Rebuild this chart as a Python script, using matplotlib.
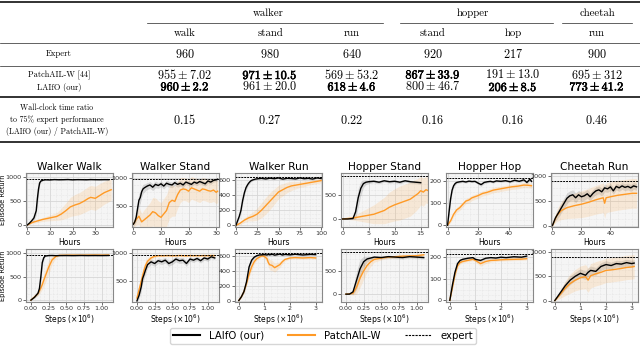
import matplotlib
matplotlib.use("Agg")
import matplotlib.pyplot as plt
import matplotlib.patheffects as pe
from matplotlib.lines import Line2D
from matplotlib.ticker import AutoMinorLocator

# ---------------- table data ----------------
envs = ["walker", "hopper", "cheetah"]
tasks = ["walk", "stand", "run", "stand", "hop", "run"]
expert_scores = [960, 980, 640, 920, 217, 900]
patchail_scores = ["955 \\pm 7.02", "971 \\pm 10.5", "569 \\pm 53.2", "867 \\pm 33.9", "191 \\pm 13.0", "695 \\pm 312"]
laifo_scores = ["960 \\pm 2.2", "961 \\pm 20.0", "618 \\pm 4.6", "800 \\pm 46.7", "206 \\pm 8.5", "773 \\pm 41.2"]
patchail_bold = [False, True, False, True, False, False]
laifo_bold = [True, False, True, False, True, True]
time_ratio = [0.15, 0.27, 0.22, 0.16, 0.16, 0.46]

# ---------------- curve data (row 1: hours) ----------------
titles = ["Walker Walk", "Walker Stand", "Walker Run", "Hopper Stand", "Hopper Hop", "Cheetah Run"]

ww_h_x_ours = [0, 1, 2, 3, 4, 4.5, 5, 5.5, 6, 7, 8, 10, 12, 14, 16, 18, 20, 22, 24, 26, 28, 30, 32, 34, 36]
ww_h_ours = [0, 40, 90, 150, 300, 550, 750, 880, 920, 940, 948, 945, 952, 948, 950, 953, 947, 951, 950, 948, 952, 950, 949, 951, 950]
ww_h_ours_sd = [0, 20, 40, 60, 90, 120, 100, 50, 20, 10, 8, 8, 8, 8, 8, 8, 8, 8, 8, 8, 8, 8, 8, 8, 8]
ww_h_x_patch = [0, 2, 4, 7, 10, 13, 15, 17, 19, 21, 23, 25, 27, 28, 30, 32, 34, 36, 37]
ww_h_patch = [0, 50, 80, 120, 150, 180, 230, 300, 380, 420, 450, 500, 560, 580, 560, 620, 680, 720, 740]
ww_h_patch_sd = [0, 20, 30, 40, 60, 80, 120, 160, 200, 220, 230, 240, 250, 250, 250, 250, 240, 230, 220]

ws_h_x_ours = [0, 0.5, 1, 1.5, 2, 2.5, 3, 3.5, 4, 5, 6, 7, 8, 9, 10, 11, 12, 13, 14, 15, 16, 17, 18, 19, 20, 21, 22, 23, 24, 25, 26, 27, 28, 29, 30, 30.5]
ws_h_ours = [180, 220, 300, 450, 600, 650, 750, 800, 820, 850, 870, 830, 880, 860, 890, 850, 900, 880, 870, 910, 880, 900, 870, 920, 900, 880, 920, 900, 930, 910, 890, 940, 920, 950, 960, 970]
ws_h_ours_sd = [40, 50, 80, 100, 120, 100, 90, 80, 70, 60, 60, 60, 60, 50, 50, 50, 50, 50, 50, 50, 50, 50, 50, 40, 40, 40, 40, 40, 40, 40, 40, 40, 40, 30, 30, 30]
ws_h_x_patch = [0, 1, 2, 3, 4, 5, 6, 7, 8, 9, 10, 11, 12, 13, 14, 15, 16, 17, 18, 19, 20, 21, 22, 23, 24, 25, 26, 27, 28, 29, 30, 30.5]
ws_h_patch = [180, 260, 320, 220, 260, 300, 340, 400, 380, 330, 300, 360, 420, 560, 600, 580, 700, 780, 800, 790, 760, 820, 800, 780, 760, 800, 790, 770, 760, 780, 740, 760]
ws_h_patch_sd = [60, 100, 150, 150, 180, 200, 220, 250, 260, 260, 260, 270, 280, 280, 280, 260, 240, 220, 200, 200, 200, 200, 200, 200, 200, 200, 200, 200, 200, 200, 200, 200]

wr_h_x_ours = [0, 2, 4, 6, 8, 10, 12, 14, 16, 18, 20, 23, 26, 30, 35, 40, 45, 50, 55, 60, 65, 70, 75, 80, 85, 90, 95, 100]
wr_h_ours = [0, 60, 120, 200, 330, 430, 500, 540, 570, 590, 600, 610, 615, 620, 612, 622, 615, 625, 610, 620, 618, 612, 625, 615, 620, 610, 625, 618]
wr_h_ours_sd = [0, 20, 30, 40, 40, 40, 30, 25, 20, 15, 10, 10, 10, 10, 10, 10, 10, 10, 10, 10, 10, 10, 10, 10, 10, 10, 10, 10]
wr_h_x_patch = [0, 5, 10, 15, 20, 25, 30, 35, 40, 45, 50, 55, 60, 65, 70, 75, 80, 85, 90, 95, 100]
wr_h_patch = [0, 30, 70, 100, 120, 150, 200, 260, 320, 380, 440, 470, 500, 520, 530, 540, 550, 560, 570, 580, 590]
wr_h_patch_sd = [0, 20, 30, 40, 60, 80, 100, 110, 110, 100, 90, 80, 70, 60, 50, 40, 40, 30, 30, 30, 30]

hs_h_x_ours = [0, 1, 2, 2.5, 3, 3.5, 4, 4.5, 5, 6, 7, 8, 9, 10, 11, 12, 13, 14, 15]
hs_h_ours = [0, 0, 10, 150, 450, 650, 750, 780, 790, 800, 780, 810, 790, 800, 780, 810, 790, 780, 770]
hs_h_ours_sd = [0, 0, 20, 150, 200, 150, 80, 50, 40, 30, 30, 30, 30, 30, 30, 30, 30, 30, 30]
hs_h_x_patch = [0, 2, 4, 6, 8, 9, 10, 11, 12, 13, 14, 14.5, 15, 15.5, 16, 16.5]
hs_h_patch = [0, 20, 60, 100, 180, 250, 300, 340, 380, 420, 500, 540, 600, 570, 620, 600]
hs_h_patch_sd = [0, 40, 120, 200, 280, 320, 340, 360, 360, 360, 340, 320, 300, 300, 280, 280]

hh_h_x_ours = [0, 1, 2, 3, 4, 5, 6, 8, 10, 12, 14, 16, 18, 20, 22, 24, 26, 28, 30, 32, 35, 38, 41, 44, 47, 50, 52, 54, 55]
hh_h_ours = [0, 60, 120, 160, 180, 190, 195, 198, 200, 197, 201, 199, 200, 192, 185, 195, 198, 200, 197, 202, 200, 203, 198, 205, 200, 207, 195, 210, 200]
hh_h_ours_sd = [0, 15, 15, 12, 10, 8, 6, 5, 5, 5, 5, 5, 5, 6, 8, 6, 5, 5, 5, 5, 5, 5, 5, 6, 6, 6, 8, 8, 8]
hh_h_x_patch = [0, 2, 4, 6, 8, 10, 12, 14, 16, 18, 20, 23, 26, 30, 34, 38, 42, 46, 50, 53, 55]
hh_h_patch = [0, 20, 50, 70, 80, 95, 110, 115, 125, 130, 135, 145, 150, 160, 165, 170, 175, 178, 183, 182, 180]
hh_h_patch_sd = [0, 8, 10, 12, 12, 12, 12, 12, 12, 12, 12, 12, 12, 12, 12, 12, 12, 12, 12, 12, 12]

cr_h_x_ours = [0, 2, 4, 6, 8, 10, 12, 14, 16, 18, 20, 22, 24, 26, 28, 30, 32, 34, 36, 38, 40, 42, 44, 46, 48, 50, 52, 54, 56, 58]
cr_h_ours = [0, 150, 250, 350, 450, 550, 600, 620, 560, 620, 580, 600, 640, 580, 650, 700, 720, 680, 760, 740, 780, 700, 790, 760, 800, 770, 790, 760, 800, 780]
cr_h_ours_sd = [0, 60, 90, 100, 110, 110, 100, 100, 100, 90, 90, 90, 90, 80, 80, 80, 80, 80, 80, 70, 70, 70, 70, 70, 70, 70, 70, 70, 70, 70]
cr_h_x_patch = [0, 3, 6, 10, 15, 20, 25, 30, 35, 36, 37, 40, 45, 50, 55, 58]
cr_h_patch = [0, 200, 300, 360, 400, 430, 470, 520, 560, 450, 560, 580, 610, 630, 650, 650]
cr_h_patch_sd = [0, 120, 180, 220, 250, 270, 280, 290, 300, 300, 300, 300, 300, 300, 300, 300]

# ---------------- curve data (row 2: env steps x 1e6) ----------------
ww_s_x = [0, 0.05, 0.1, 0.12, 0.14, 0.16, 0.18, 0.2, 0.25, 0.3, 0.35, 0.4, 0.5, 0.6, 0.7, 0.8, 0.9, 1.0, 1.1]
ww_s_ours = [0, 60, 150, 250, 500, 800, 900, 940, 950, 952, 948, 950, 951, 949, 952, 950, 951, 950, 952]
ww_s_ours_sd = [0, 20, 40, 80, 120, 80, 40, 15, 8, 8, 8, 8, 8, 8, 8, 8, 8, 8, 8]
ww_s_patch = [0, 70, 140, 200, 260, 330, 420, 500, 700, 860, 930, 955, 958, 960, 958, 960, 962, 960, 962]
ww_s_patch_sd = [0, 20, 40, 60, 80, 100, 120, 140, 150, 90, 40, 10, 8, 8, 8, 8, 8, 8, 8]

ws_s_x = [0, 0.03, 0.06, 0.08, 0.1, 0.12, 0.15, 0.2, 0.25, 0.3, 0.35, 0.4, 0.45, 0.5, 0.55, 0.6, 0.65, 0.7, 0.75, 0.8, 0.85, 0.9, 0.95, 1.0, 1.05, 1.1]
ws_s_ours = [150, 250, 400, 550, 620, 700, 800, 850, 820, 870, 850, 880, 820, 850, 900, 870, 880, 820, 900, 880, 910, 870, 920, 900, 940, 920]
ws_s_ours_sd = [30, 60, 80, 80, 80, 70, 60, 50, 50, 50, 50, 50, 50, 50, 50, 50, 50, 50, 40, 40, 40, 40, 40, 40, 30, 30]
ws_s_patch = [200, 350, 500, 600, 700, 780, 860, 920, 950, 960, 958, 960, 962, 958, 960, 962, 960, 958, 962, 960, 961, 960, 962, 960, 963, 962]
ws_s_patch_sd = [40, 80, 100, 100, 100, 90, 70, 40, 20, 15, 10, 10, 10, 10, 10, 10, 10, 10, 10, 10, 10, 10, 10, 10, 10, 10]

wr_s_x = [0, 0.1, 0.2, 0.3, 0.4, 0.5, 0.6, 0.7, 0.8, 0.9, 1.0, 1.1, 1.15, 1.2, 1.3, 1.4, 1.5, 1.6, 1.7, 1.8, 2.0, 2.2, 2.5, 2.8, 3.0]
wr_s_ours = [0, 50, 120, 250, 450, 540, 580, 600, 610, 612, 615, 610, 618, 612, 620, 608, 615, 622, 610, 618, 612, 620, 610, 618, 615]
wr_s_ours_sd = [0, 10, 20, 40, 40, 30, 20, 15, 12, 12, 12, 12, 12, 12, 12, 12, 12, 12, 12, 12, 12, 12, 12, 12, 12]
wr_s_patch = [0, 50, 120, 230, 350, 450, 520, 560, 580, 600, 590, 560, 510, 480, 470, 440, 460, 480, 520, 550, 570, 575, 570, 575, 570]
wr_s_patch_sd = [0, 10, 20, 30, 40, 40, 30, 20, 20, 20, 30, 50, 60, 70, 70, 60, 50, 40, 30, 20, 15, 15, 15, 15, 15]

hs_s_x = [0, 0.05, 0.1, 0.15, 0.2, 0.25, 0.3, 0.35, 0.4, 0.5, 0.6, 0.7, 0.8, 0.9, 1.0, 1.1]
hs_s_ours = [0, 0, 50, 300, 550, 700, 760, 780, 800, 790, 810, 800, 790, 810, 800, 790]
hs_s_ours_sd = [0, 0, 60, 200, 200, 120, 60, 40, 30, 30, 30, 30, 30, 30, 30, 30]
hs_s_patch = [0, 5, 20, 150, 350, 500, 620, 700, 750, 780, 800, 810, 820, 825, 830, 850]
hs_s_patch_sd = [0, 10, 40, 150, 200, 180, 140, 100, 60, 40, 30, 30, 30, 30, 30, 30]

hh_s_x = [0, 0.1, 0.2, 0.3, 0.4, 0.5, 0.7, 0.9, 1.0, 1.2, 1.4, 1.6, 1.8, 2.0, 2.2, 2.5, 2.8, 3.0]
hh_s_ours = [0, 70, 130, 170, 185, 190, 195, 198, 190, 185, 195, 198, 196, 200, 198, 202, 200, 205]
hh_s_ours_sd = [0, 15, 15, 10, 8, 6, 5, 5, 6, 6, 5, 5, 5, 5, 5, 5, 5, 6]
hh_s_patch = [0, 60, 120, 160, 175, 180, 185, 190, 185, 170, 180, 185, 186, 188, 189, 190, 191, 193]
hh_s_patch_sd = [0, 12, 15, 12, 8, 6, 6, 6, 8, 12, 10, 8, 6, 6, 6, 6, 6, 6]

cr_s_x = [0, 0.2, 0.4, 0.6, 0.8, 1.0, 1.2, 1.3, 1.4, 1.6, 1.8, 2.0, 2.2, 2.4, 2.6, 2.8, 3.0, 3.1]
cr_s_ours = [0, 150, 300, 420, 500, 560, 520, 580, 620, 600, 700, 740, 720, 760, 750, 780, 760, 770]
cr_s_ours_sd = [0, 50, 80, 90, 90, 90, 90, 90, 90, 80, 80, 80, 70, 70, 70, 70, 70, 70]
cr_s_patch = [0, 120, 250, 350, 420, 470, 490, 420, 510, 550, 580, 620, 630, 645, 660, 680, 690, 700]
cr_s_patch_sd = [0, 80, 150, 200, 220, 240, 250, 250, 250, 250, 250, 250, 250, 250, 250, 250, 250, 250]

hour_data = [
    (ww_h_x_ours, ww_h_ours, ww_h_ours_sd, ww_h_x_patch, ww_h_patch, ww_h_patch_sd),
    (ws_h_x_ours, ws_h_ours, ws_h_ours_sd, ws_h_x_patch, ws_h_patch, ws_h_patch_sd),
    (wr_h_x_ours, wr_h_ours, wr_h_ours_sd, wr_h_x_patch, wr_h_patch, wr_h_patch_sd),
    (hs_h_x_ours, hs_h_ours, hs_h_ours_sd, hs_h_x_patch, hs_h_patch, hs_h_patch_sd),
    (hh_h_x_ours, hh_h_ours, hh_h_ours_sd, hh_h_x_patch, hh_h_patch, hh_h_patch_sd),
    (cr_h_x_ours, cr_h_ours, cr_h_ours_sd, cr_h_x_patch, cr_h_patch, cr_h_patch_sd),
]
step_data = [
    (ww_s_x, ww_s_ours, ww_s_ours_sd, ww_s_x, ww_s_patch, ww_s_patch_sd),
    (ws_s_x, ws_s_ours, ws_s_ours_sd, ws_s_x, ws_s_patch, ws_s_patch_sd),
    (wr_s_x, wr_s_ours, wr_s_ours_sd, wr_s_x, wr_s_patch, wr_s_patch_sd),
    (hs_s_x, hs_s_ours, hs_s_ours_sd, hs_s_x, hs_s_patch, hs_s_patch_sd),
    (hh_s_x, hh_s_ours, hh_s_ours_sd, hh_s_x, hh_s_patch, hh_s_patch_sd),
    (cr_s_x, cr_s_ours, cr_s_ours_sd, cr_s_x, cr_s_patch, cr_s_patch_sd),
]

hour_xlim = [(-0.5, 37.8), (-0.5, 31), (-1, 101), (-0.3, 16.4), (-1, 56), (-1, 59)]
hour_xticks = [[0, 10, 20, 30], [0, 10, 20, 30], [0, 25, 50, 75, 100], [0, 5, 10, 15], [0, 20, 40], [0, 20, 40]]
step_xlim = [(-0.07, 1.16), (-0.07, 1.16), (-0.15, 3.25), (-0.07, 1.16), (-0.15, 3.25), (-0.15, 3.25)]
step_xticks = [[0, 0.25, 0.5, 0.75, 1.0], [0, 0.25, 0.5, 0.75, 1.0], [0, 1, 2, 3], [0, 0.25, 0.5, 0.75, 1.0], [0, 1, 2, 3], [0, 1, 2, 3]]
ylims = [(-40, 1090), (130, 1080), (-20, 690), (-170, 975), (-8, 238), (-30, 1060)]
yticks = [[0, 500, 1000], [500, 1000], [0, 200, 400, 600], [0, 500], [0, 100, 200], [0, 500, 1000]]

BLACK = "black"
ORANGE = "#ff9a26"

W, H = 640, 347
fig = plt.figure(figsize=(6.4, 3.47), dpi=100)


def fx(x):
    return x / W


def fy(y):
    return 1 - y / H


def hline(y, x0=0, x1=640, lw=0.5):
    fig.add_artist(Line2D([fx(x0), fx(x1)], [fy(y), fy(y)], transform=fig.transFigure, color="#222222", lw=lw))


def ttext(x, y, s, size=8, bold=False):
    t = fig.text(fx(x), fy(y), s, ha="center", va="center", fontsize=size,
                 fontfamily="cmr10", math_fontfamily="cm")
    if bold:
        # mathtext cm bold is faint at this size, thicken it a bit
        t.set_path_effects([pe.withStroke(linewidth=0.4, foreground="black")])


# ---------------- table ----------------
col_x = [185, 270, 352, 433, 513, 597]
label_x = 57
label_size = 5.7
num_size = 8.8
head_size = 7.8
hline(2, lw=1.3)
ttext(268, 13, envs[0], head_size)
ttext(473, 13, envs[1], head_size)
ttext(597, 13, envs[2], head_size)
hline(23, 147, 383)
hline(23, 400, 553)
hline(23, 562, 632)
for x, t in zip(col_x, tasks):
    ttext(x, 33, t, head_size)
hline(43)
ttext(label_x + 2, 54, "Expert", label_size + 0.6)
for x, v in zip(col_x, expert_scores):
    ttext(x, 54, "$%d$" % v, num_size)
hline(66)
ttext(label_x + 2, 75, "PatchAIL-W [44]", label_size + 0.3)
ttext(label_x + 2, 87, "LAIfO (our)", label_size + 0.3)
for x, s, b in zip(col_x, patchail_scores, patchail_bold):
    ttext(x, 75, ("$\\mathbf{%s}$" if b else "$%s$") % s, num_size, b)
for x, s, b in zip(col_x, laifo_scores, laifo_bold):
    ttext(x, 87, ("$\\mathbf{%s}$" if b else "$%s$") % s, num_size, b)
hline(97, lw=1.3)
ttext(label_x, 108, "Wall-clock time ratio", label_size)
ttext(label_x, 120, "to 75% expert performance", label_size)
ttext(label_x, 132, "(LAIfO (our) / PatchAIL-W)", label_size)
for x, v in zip(col_x, time_ratio):
    ttext(x, 120, "$%.2f$" % v, num_size)
hline(142, lw=1.3)

# ---------------- curves ----------------
col_left = [26, 132, 235, 341, 446, 551]
ax_w = 87
rows = [(173, 227, hour_data, hour_xlim, hour_xticks, "Hours"),
        (249, 302, step_data, step_xlim, step_xticks, "Steps ($\\times 10^6$)")]

for r, (top, bot, data, xlims, xticks, xlabel) in enumerate(rows):
    for c in range(6):
        ax = fig.add_axes([fx(col_left[c]), fy(bot), fx(ax_w), (bot - top) / H])
        xo, yo, so, xp, yp, sp = data[c]
        lo = [a - b for a, b in zip(yo, so)]
        hi = [a + b for a, b in zip(yo, so)]
        ax.fill_between(xo, lo, hi, color="black", alpha=0.12, lw=0)
        lo = [a - b for a, b in zip(yp, sp)]
        hi = [a + b for a, b in zip(yp, sp)]
        ax.fill_between(xp, lo, hi, color=ORANGE, alpha=0.15, lw=0)
        ax.plot(xp, yp, color=ORANGE, lw=1.0)
        ax.plot(xo, yo, color=BLACK, lw=1.0)
        ax.axhline(expert_scores[c], color="black", lw=0.7, ls=(0, (2, 1)))
        ax.set_xlim(*xlims[c])
        ax.set_ylim(*ylims[c])
        ax.set_xticks(xticks[c])
        ax.set_yticks(yticks[c])
        if r == 1 and c in (0, 1, 3):
            ax.set_xticklabels(["%.2f" % t for t in xticks[c]])
        ax.set_facecolor("#f5f5f5")
        ax.xaxis.set_minor_locator(AutoMinorLocator(4))
        ax.yaxis.set_minor_locator(AutoMinorLocator(4))
        ax.grid(True, which="major", color="#d6d6d6", lw=0.6)
        ax.grid(True, which="minor", color="#dcdcdc", lw=0.4, ls=":")
        ax.set_axisbelow(True)
        ax.tick_params(labelsize=4.6, length=2, width=0.5, pad=1, colors="#333333")
        ax.tick_params(which="minor", length=0)
        for s in ax.spines.values():
            s.set_color("#888888")
            s.set_linewidth(0.8)
        ax.set_xlabel(xlabel, fontsize=5.5, labelpad=1)
        if r == 0:
            ax.set_title(titles[c], fontsize=7.6, pad=2)
    fig.text(fx(3.5), fy((top + bot) / 2), "Episode Return", rotation=90, ha="center", va="center", fontsize=4.8)

handles = [Line2D([], [], color=BLACK, lw=1.5),
           Line2D([], [], color=ORANGE, lw=1.5),
           Line2D([], [], color="black", lw=0.8, ls=(0, (2, 1)))]
fig.legend(handles, ["LAIfO (our)", "PatchAIL-W", "expert"], loc="center",
           bbox_to_anchor=(fx(323), fy(336)), ncol=3, fontsize=7.3, frameon=True,
           fancybox=True, edgecolor="#cccccc", handlelength=2.6, columnspacing=2.4,
           borderpad=0.3, handletextpad=0.9)

fig.savefig("out.png", dpi=100)
